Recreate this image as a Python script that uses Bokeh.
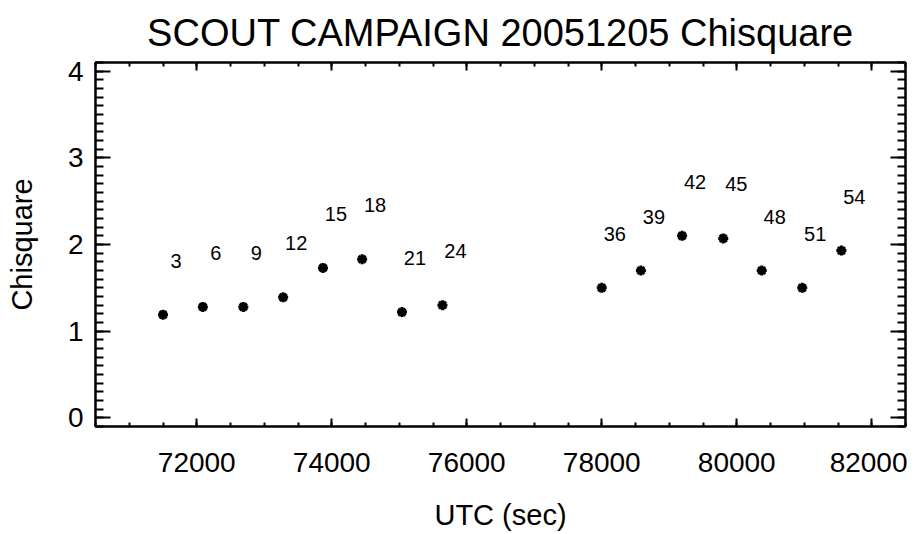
from bokeh.plotting import figure
from bokeh.models import (LinearAxis, SingleIntervalTicker, Range1d,
                          CustomJSTickFormatter, ColumnDataSource, LabelSet)
from bokeh.core.properties import value
from bokeh.embed import file_html
from bokeh.resources import INLINE

# ---- data ----
utc = [71500, 72090, 72690, 73280, 73870, 74450, 75040, 75640,
       78000, 78580, 79190, 79800, 80370, 80970, 81550]
chisq = [1.19, 1.28, 1.28, 1.39, 1.73, 1.83, 1.22, 1.30,
         1.50, 1.70, 2.10, 2.07, 1.70, 1.50, 1.93]
scan = [3, 6, 9, 12, 15, 18, 21, 24, 36, 39, 42, 45, 48, 51, 54]

FONT = "Liberation Sans"

src = ColumnDataSource(dict(x=utc, y=chisq, lab=[str(s) for s in scan]))

p = figure(width=907, height=534,
           x_range=Range1d(70500, 82500), y_range=Range1d(-0.1, 4.1),
           output_backend="svg", toolbar_location=None,
           min_border_left=95, min_border_right=2,
           min_border_top=60, min_border_bottom=108,
           x_axis_label="UTC (sec)", y_axis_label="Chisquare",
           title="SCOUT CAMPAIGN 20051205 Chisquare")

p.background_fill_color = "white"
p.border_fill_color = "white"
p.outline_line_color = "black"
p.outline_line_width = 2
p.xgrid.visible = False
p.ygrid.visible = False

p.title.align = "center"
p.title.text_font = FONT
p.title.text_font_size = "38px"
p.title.text_font_style = "normal"
p.title.text_color = "black"
p.title.standoff = 18

xt = SingleIntervalTicker(interval=2000, num_minor_ticks=4)
yt = SingleIntervalTicker(interval=1, num_minor_ticks=10)

def style(ax, major, minor):
    ax.axis_line_color = "black"
    ax.axis_line_width = 2
    ax.major_tick_line_color = "black"
    ax.major_tick_line_width = 2
    ax.minor_tick_line_color = "black"
    ax.minor_tick_line_width = 2
    ax.major_tick_in = major
    ax.major_tick_out = 0
    ax.minor_tick_in = minor
    ax.minor_tick_out = 0
    ax.major_label_text_font = FONT
    ax.major_label_text_font_size = "28px"
    ax.major_label_text_color = "black"
    ax.axis_label_text_font = FONT
    ax.axis_label_text_font_size = "29px"
    ax.axis_label_text_font_style = "normal"
    ax.axis_label_text_color = "black"

xa = p.xaxis[0]
xa.ticker = xt
style(xa, 8, 4)
xa.major_label_standoff = 26
xa.axis_label_standoff = 24

ya = p.yaxis[0]
ya.ticker = yt
style(ya, 15, 8)
ya.major_label_standoff = 12
ya.axis_label_standoff = 27

blank = CustomJSTickFormatter(code="return ''")
top = LinearAxis(ticker=xt, formatter=blank)
style(top, 8, 4)
top.major_label_standoff = 0
p.add_layout(top, "above")

right = LinearAxis(ticker=yt, formatter=blank)
style(right, 15, 8)
right.major_label_standoff = 0
p.add_layout(right, "right")

p.scatter("x", "y", source=src, marker="asterisk", size=10,
          line_width=3, line_color="black")

labels = LabelSet(x="x", y="y", text="lab", source=src,
                  x_offset=13, y_offset=47,
                  text_align="center", text_baseline="alphabetic",
                  text_font=value(FONT), text_font_size="20px",
                  text_color="black")
p.add_layout(labels)

open("out.html", "w").write(file_html(p, INLINE))
